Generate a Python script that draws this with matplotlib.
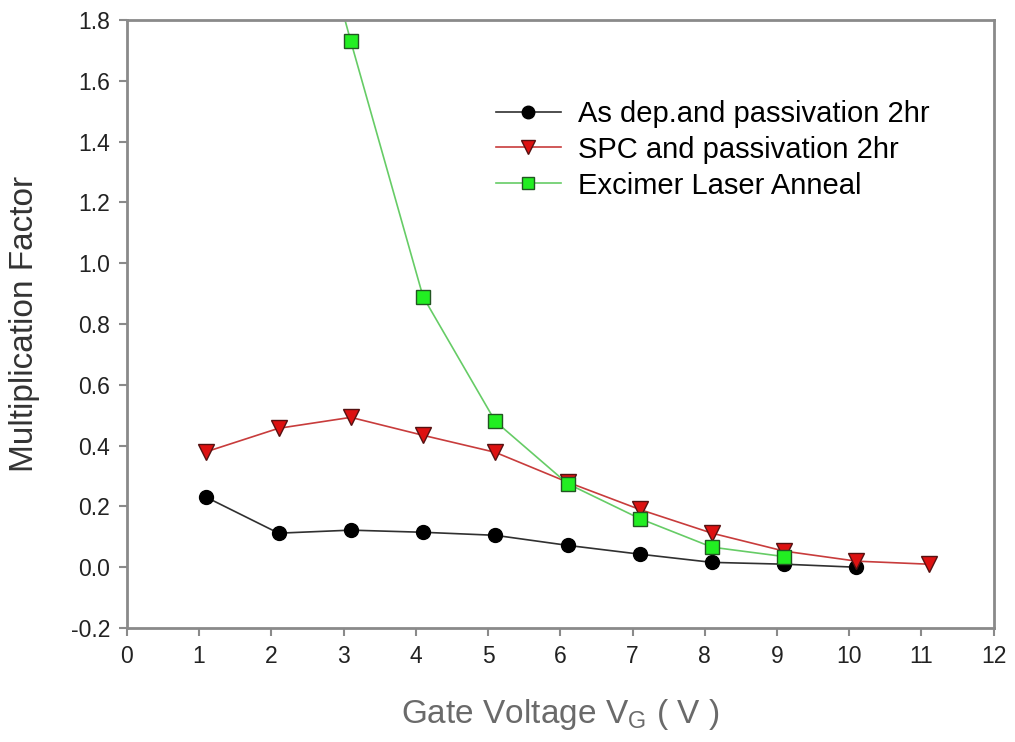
import matplotlib.pyplot as plt

plt.rcParams['font.family'] = ['Liberation Sans', 'DejaVu Sans']

# gate voltage (V) and multiplication factor for each process
vg = [1.1, 2.1, 3.1, 4.1, 5.1, 6.1, 7.1, 8.1, 9.1, 10.1, 11.1]
as_dep = [0.23, 0.112, 0.122, 0.115, 0.105, 0.072, 0.043, 0.016, 0.01, 0.0]
spc = [0.38, 0.457, 0.493, 0.434, 0.378, 0.28, 0.19, 0.112, 0.053, 0.02, 0.01]
ela_vg = [2.1, 3.1, 4.1, 5.1, 6.1, 7.1, 8.1, 9.1]
ela = [2.6, 1.73, 0.89, 0.48, 0.275, 0.16, 0.066, 0.035]

xticks = list(range(0, 13))
yticks = [-0.2, 0.0, 0.2, 0.4, 0.6, 0.8, 1.0, 1.2, 1.4, 1.6, 1.8]

fig = plt.figure(figsize=(10.15, 7.42), dpi=100)
ax = fig.add_axes([0.125, 0.1536, 0.854, 0.8194])

ax.plot(vg[:len(as_dep)], as_dep, color='#303030', lw=1.2, marker='o', ms=10,
        mfc='black', mec='black', label='As dep.and passivation 2hr')
ax.plot(vg, spc, color='#c83c3c', lw=1.2, marker='v', ms=11,
        mfc='#dd1111', mec='#551111', label='SPC and passivation 2hr')
ax.plot(ela_vg, ela, color='#66cc66', lw=1.2, marker='s', ms=10,
        mfc='#22ee22', mec='#225522', label='Excimer Laser Anneal')

ax.set_xlim(0, 12)
ax.set_ylim(-0.2, 1.8)
ax.set_xticks(xticks)
ax.set_yticks(yticks)
ax.set_yticklabels(['%.1f' % v for v in yticks])

for s in ax.spines.values():
    s.set_color('#8a8a8a')
    s.set_linewidth(2)
ax.tick_params(direction='out', length=6, width=1.5, color='#8a8a8a',
               labelsize=16.5, labelcolor='#222222', pad=6)

ax.set_ylabel('Multiplication Factor', fontsize=24, color='#333333', labelpad=22)
ax.set_xlabel('Gate Voltage V$_\\mathregular{G}$ ( V )', fontsize=24,
              color='#6a6a6a', labelpad=21)

ax.legend(loc='upper left', bbox_to_anchor=(0.396, 0.912), frameon=False,
          fontsize=21, handlelength=2.2, handletextpad=0.6, labelspacing=0.27,
          markerscale=0.9)

fig.savefig('out.png', dpi=100)
